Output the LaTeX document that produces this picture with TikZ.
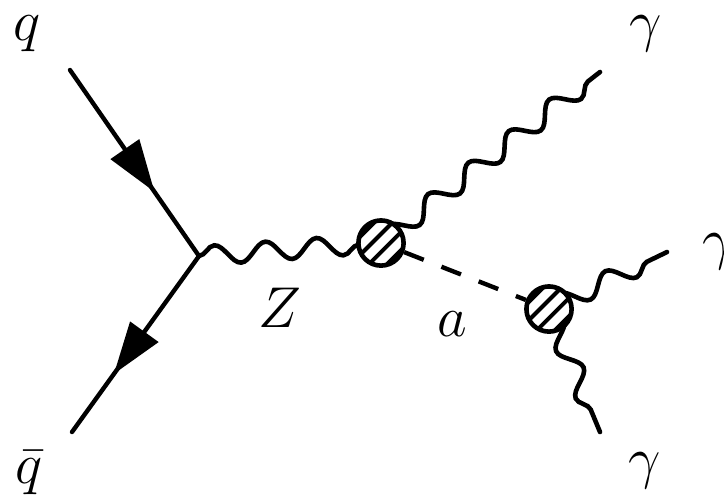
\documentclass[tikz,border=0pt]{standalone}
\usetikzlibrary{decorations.pathmorphing,decorations.markings,arrows.meta}
\begin{document}
\begin{tikzpicture}[x=0.25pt,y=-0.25pt,
  fermion/.style={line width=1.1pt,line cap=round,postaction={decorate},
    decoration={markings,mark=at position #1 with {\arrow{Triangle[length=13pt,width=8.5pt]}}}},
  photon/.style={line width=1.15pt,line cap=round,decorate,
    decoration={snake,segment length=12.8pt,amplitude=2.4pt}},
  scalar/.style={line width=1.1pt,dash pattern=on 5.25pt off 4.75pt},
  blob/.style={circle,draw,line width=1.15pt,fill=white,minimum size=11.3pt,inner sep=0pt,
    path picture={\foreach \d in {-4.8,-1.6,1.6,4.8}{
      \draw[line width=1pt,x=1pt,y=1pt,shift={(path picture bounding box.center)}]
        ({\d*0.707-9},{-\d*0.707-9}) -- ({\d*0.707+9},{-\d*0.707+9});}}},
  lbl/.style={inner sep=0pt,font=\fontsize{15}{18}\selectfont}]
\useasboundingbox (0,0) rectangle (724,497);
% points
\coordinate (qin) at (70,70);
\coordinate (qbout) at (72,432);
\coordinate (V) at (199,256);
\coordinate (b1) at (381,243);
\coordinate (b2) at (549,309);
\coordinate (g1) at (600,72);
\coordinate (g2) at (667,252);
\coordinate (g3) at (600,432);
% fermions
\draw[fermion=0.655] (qin) -- (V);
\draw[fermion=0.67] (V) -- (qbout);
% photons
\draw[photon] (V) -- (b1);
\draw[photon] (b1) -- (g1);
\draw[photon] (b2) -- (g2);
\draw[photon] (b2) -- (g3);
% blobs
\node[blob] (B1) at (b1) {};
\node[blob] (B2) at (b2) {};
\draw[scalar] (B1) -- (B2);
% labels
\node[lbl] (lq) at (27,34) {$q$};
\node[lbl] (lqb) at (29,473) {$\bar q$};
\node[lbl] (lg1) at (646,34) {$\gamma$};
\node[lbl] (lg2) at (719,252) {$\gamma$};
\node[lbl] (lg3) at (645,471) {$\gamma$};
\node[lbl] (lZ) at (280,308) {$Z$};
\node[lbl] (la) at (452,324) {$a$};
\end{tikzpicture}
\end{document}
